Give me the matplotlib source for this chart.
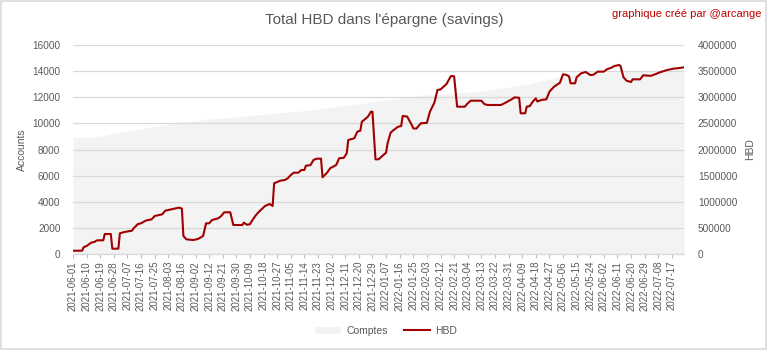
import matplotlib

matplotlib.use("Agg")
import matplotlib.pyplot as plt
from matplotlib.patches import Rectangle
from matplotlib.ticker import StrMethodFormatter

plt.rcParams["font.family"] = ["Liberation Sans", "DejaVu Sans"]

GREY = "#595959"
GRID = "#d9d9d9"
RED = "#a00000"

TICK_LABELS = [
    "2021-06-01", "2021-06-10", "2021-06-19", "2021-06-28", "2021-07-07",
    "2021-07-16", "2021-07-25", "2021-08-03", "2021-08-16", "2021-09-02",
    "2021-09-12", "2021-09-21", "2021-09-30", "2021-10-09", "2021-10-18",
    "2021-10-27", "2021-11-05", "2021-11-14", "2021-11-23", "2021-12-02",
    "2021-12-11", "2021-12-20", "2021-12-29", "2022-01-07", "2022-01-16",
    "2022-01-25", "2022-02-03", "2022-02-12", "2022-02-21", "2022-03-04",
    "2022-03-13", "2022-03-22", "2022-03-31", "2022-04-09", "2022-04-18",
    "2022-04-27", "2022-05-06", "2022-05-15", "2022-05-24", "2022-06-02",
    "2022-06-11", "2022-06-20", "2022-06-29", "2022-07-08", "2022-07-17",
]
LABEL_EVERY = 9   # the sheet labels one row in nine
LAST_ROW = 404

# Comptes (left axis), row index -> accounts
COMPTES_ROWS = [0, 17, 31, 64, 77, 156, 230, 269, 302, 324, 361, 404]
COMPTES_VALUES = [8900, 8980, 9300, 9950, 10180, 11000, 12150, 12450, 13020, 13650, 13950, 14150]

# HBD in savings (right axis), row index -> HBD
HBD_ROWS = [
    0, 6, 7, 9, 12, 14, 16, 20, 21, 25, 26, 30, 31, 34, 39, 40, 43, 45, 48, 52,
    54, 59, 61, 65, 70, 72, 73, 75, 79, 81, 83, 86, 88, 90, 92, 96, 98, 100, 104, 106,
    112, 113, 115, 117, 119, 121, 123, 127, 130, 132, 133, 137, 140, 142, 144, 146, 149, 151, 153, 154,
    157, 159, 161, 164, 165, 168, 170, 174, 176, 179, 181, 182, 186, 188, 190, 191, 193, 195, 197, 198,
    200, 202, 204, 207, 208, 210, 212, 215, 217, 218, 221, 224, 225, 227, 230, 234, 236, 239, 241, 243,
    245, 247, 249, 250, 252, 254, 259, 261, 263, 270, 272, 274, 283, 286, 290, 292, 295, 296, 299, 300,
    302, 304, 306, 307, 310, 313, 315, 318, 322, 324, 326, 328, 329, 332, 333, 336, 339, 342, 344, 347,
    351, 353, 356, 358, 361, 362, 364, 366, 369, 370, 375, 377, 382, 385, 388, 393, 397, 401, 404,
]
HBD_VALUES = [
    63000, 63000, 128000, 153000, 217000, 230000, 262000, 262000, 383000, 383000,
    102000, 102000, 396000, 421000, 446000, 491000, 574000, 587000, 638000, 664000,
    727000, 759000, 829000, 855000, 887000, 870000, 344000, 281000, 268000, 275000,
    293000, 344000, 587000, 587000, 651000, 683000, 727000, 798000, 798000, 555000,
    555000, 600000, 560000, 570000, 664000, 746000, 810000, 919000, 957000, 920000,
    1353000, 1403000, 1416000, 1449000, 1512000, 1556000, 1556000, 1608000, 1608000, 1690000,
    1700000, 1799000, 1824000, 1824000, 1468000, 1556000, 1640000, 1703000, 1832000, 1840000,
    1927000, 2182000, 2214000, 2341000, 2360000, 2532000, 2578000, 2628000, 2723000, 2723000,
    1812000, 1812000, 1862000, 1939000, 2119000, 2322000, 2373000, 2436000, 2450000, 2641000,
    2630000, 2469000, 2405000, 2400000, 2501000, 2510000, 2723000, 2900000, 3139000, 3150000,
    3202000, 3254000, 3362000, 3407000, 3400000, 2819000, 2819000, 2884000, 2934000, 2934000,
    2870000, 2852000, 2852000, 2896000, 2960000, 2998000, 2990000, 2693000, 2693000, 2819000,
    2830000, 2915000, 2979000, 2920000, 2950000, 2960000, 3106000, 3200000, 3279000, 3439000,
    3430000, 3400000, 3267000, 3267000, 3382000, 3458000, 3483000, 3426000, 3430000, 3490000,
    3490000, 3535000, 3566000, 3598000, 3617000, 3600000, 3382000, 3317000, 3292000, 3343000,
    3343000, 3420000, 3410000, 3440000, 3477000, 3522000, 3547000, 3560000, 3573000,
]

fig = plt.figure(figsize=(7.68, 3.5), dpi=100)
fig.patches.append(Rectangle((0.001, 0.002), 0.997, 0.995, transform=fig.transFigure,
                             fill=False, edgecolor=GRID, linewidth=1.2))

ax = fig.add_axes([73 / 768, 1 - 254 / 350, 611 / 768, 209 / 350])
area = ax.fill_between(COMPTES_ROWS, COMPTES_VALUES, color="#f3f3f3", linewidth=0, label="Comptes")
ax.set_xlim(0, LAST_ROW)
ax.set_ylim(0, 16000)
ax.set_yticks(range(0, 16001, 2000))
ax.set_axisbelow("line")
ax.yaxis.grid(True, color=GRID, linewidth=0.9)
ax.set_ylabel("Accounts", color=GREY, fontsize=7.5, labelpad=4)

ax.set_xticks([i * LABEL_EVERY for i in range(len(TICK_LABELS))])
ax.set_xticklabels(TICK_LABELS, rotation=90, fontsize=7, color=GREY)
ax.tick_params(axis="x", length=3, color="#bfbfbf", pad=2)
ax.tick_params(axis="y", length=0, labelsize=7.2, labelcolor=GREY, pad=9)

ax2 = ax.twinx()
(line,) = ax2.plot(HBD_ROWS, HBD_VALUES, color=RED, linewidth=1.5, label="HBD")
ax2.set_ylim(0, 4000000)
ax2.set_yticks(range(0, 4000001, 500000))
ax2.yaxis.set_major_formatter(StrMethodFormatter("{x:.0f}"))
ax2.tick_params(axis="y", length=0, labelsize=7.2, labelcolor=GREY, pad=10)
ax2.set_ylabel("HBD", color=GREY, fontsize=7.5, labelpad=6)

for a in (ax, ax2):
    for side in ("top", "left", "right"):
        a.spines[side].set_visible(False)
    a.spines["bottom"].set_color(GRID)

fig.text(0.5, 1 - 20 / 350, "Total HBD dans l'épargne (savings)", ha="center", va="center",
         fontsize=11, color=GREY)
fig.text(761 / 768, 1 - 14 / 350, "graphique créé par @arcange", ha="right", va="center",
         fontsize=8, color="#c00000")

fig.legend(handles=[area, line], loc="center", bbox_to_anchor=(386 / 768, 1 - 331 / 350),
           ncol=2, frameon=False, fontsize=7.5, labelcolor=GREY, handlelength=2.5,
           columnspacing=1.5, handletextpad=0.5)

fig.savefig("out.png", dpi=100)
